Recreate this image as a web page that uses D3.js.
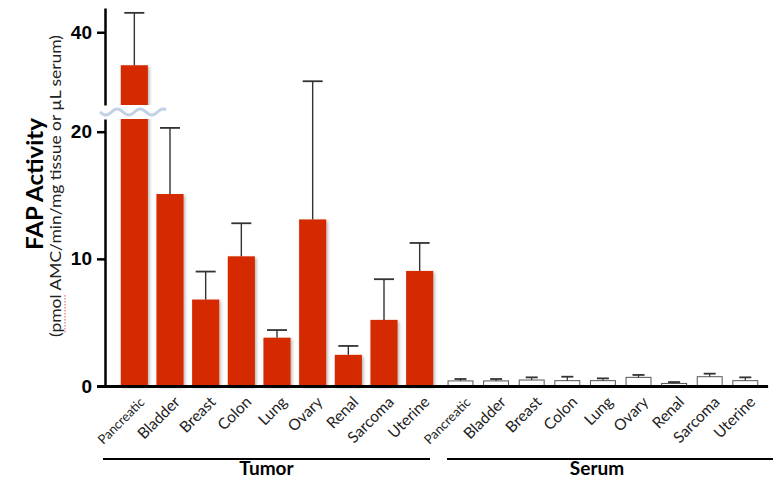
<!DOCTYPE html>
<html>
<head>
<meta charset="utf-8">
<script src="https://cdn.jsdelivr.net/npm/d3@7"></script>
<style>
  body { margin: 0; background: #fff; }
  svg { display: block; font-family: Lato, "Open Sans", sans-serif; }
</style>
</head>
<body>
<div id="chart"></div>
<script>
// Data
const categories = ["Pancreatic", "Bladder", "Breast", "Colon", "Lung", "Ovary", "Renal", "Sarcoma", "Uterine"];
const tumorMean  = [33.2, 15.1, 6.8, 10.2, 3.8, 13.1, 2.45, 5.2, 9.05];
const tumorUpper = [44.0, 20.3, 9.0, 12.8, 4.4, 29.9, 3.15, 8.4, 11.25];
const serumMean  = [0.4, 0.4, 0.47, 0.42, 0.42, 0.68, 0.2, 0.73, 0.42];
const serumUpper = [0.55, 0.55, 0.68, 0.73, 0.6, 0.87, 0.31, 0.97, 0.68];
const lowerTicks = [0, 10, 20];
const upperTicks = [40];
const groups = ["Tumor", "Serum"];

const width = 776, height = 481;
const axisX = 105;

const svg = d3.select("#chart").append("svg")
    .attr("width", width)
    .attr("height", height);

// soft shadow on the red bars
const defs = svg.append("defs");
const f = defs.append("filter").attr("id", "shadow")
    .attr("x", "-20%").attr("y", "-5%").attr("width", "150%").attr("height", "115%");
f.append("feDropShadow").attr("dx", 1.5).attr("dy", 1.5).attr("stdDeviation", 1.5)
    .attr("flood-color", "#000").attr("flood-opacity", 0.3);

// broken y axis: lower segment 0-21, upper segment 25-45
const yLow = d3.scaleLinear().domain([0, 21]).range([386, 119]);
const yHigh = d3.scaleLinear().domain([25, 45]).range([105, 8]);
const y = d3.scaleLinear().domain([0, 21, 25, 45]).range([386, 119, 105, 8]);

const xTumor = d3.scaleBand().domain(categories).range([116.5, 437.5])
    .paddingInner(0.24).paddingOuter(0.12);
const xSerum = d3.scaleBand().domain(categories).range([442.7, 763.1])
    .paddingInner(0.3).paddingOuter(0.15);

const tumorData = categories.map((c, i) => ({cat: c, mean: tumorMean[i], upper: tumorUpper[i]}));
const serumData = categories.map((c, i) => ({cat: c, mean: serumMean[i], upper: serumUpper[i]}));

// Tumor bars
svg.append("g").attr("filter", "url(#shadow)")
    .selectAll("rect")
    .data(tumorData)
    .join("rect")
    .attr("x", d => xTumor(d.cat))
    .attr("width", xTumor.bandwidth())
    .attr("y", d => y(d.mean))
    .attr("height", d => y(0) - y(d.mean))
    .attr("fill", "#d52b05");

// Tumor error bars (upper only)
const errT = svg.append("g").attr("stroke", "#333").attr("stroke-width", 1.4);
errT.selectAll(".v").data(tumorData).join("line")
    .attr("x1", d => xTumor(d.cat) + xTumor.bandwidth() / 2)
    .attr("x2", d => xTumor(d.cat) + xTumor.bandwidth() / 2)
    .attr("y1", d => y(d.mean))
    .attr("y2", d => y(d.upper));
errT.selectAll(".c").data(tumorData).join("line")
    .attr("x1", d => xTumor(d.cat) + xTumor.bandwidth() / 2 - 10)
    .attr("x2", d => xTumor(d.cat) + xTumor.bandwidth() / 2 + 10)
    .attr("y1", d => y(d.upper))
    .attr("y2", d => y(d.upper))
    .attr("stroke-width", 1.8);

// Serum bars
svg.append("g")
    .selectAll("rect")
    .data(serumData)
    .join("rect")
    .attr("x", d => xSerum(d.cat))
    .attr("width", xSerum.bandwidth())
    .attr("y", d => y(d.mean))
    .attr("height", d => y(0) - y(d.mean))
    .attr("fill", "#fff")
    .attr("stroke", "#555")
    .attr("stroke-width", 1);

const errS = svg.append("g").attr("stroke", "#333").attr("stroke-width", 1.2);
errS.selectAll(".v").data(serumData).join("line")
    .attr("x1", d => xSerum(d.cat) + xSerum.bandwidth() / 2)
    .attr("x2", d => xSerum(d.cat) + xSerum.bandwidth() / 2)
    .attr("y1", d => y(d.mean))
    .attr("y2", d => y(d.upper));
errS.selectAll(".c").data(serumData).join("line")
    .attr("x1", d => xSerum(d.cat) + xSerum.bandwidth() / 2 - 6)
    .attr("x2", d => xSerum(d.cat) + xSerum.bandwidth() / 2 + 6)
    .attr("y1", d => y(d.upper))
    .attr("y2", d => y(d.upper))
    .attr("stroke-width", 1.8);

// gap in the pancreatic bar at the axis break
svg.append("rect")
    .attr("x", xTumor("Pancreatic") - 3)
    .attr("width", xTumor.bandwidth() + 8)
    .attr("y", y(25))
    .attr("height", y(21) - y(25))
    .attr("fill", "#fff");

// wavy break mark
const wavePts = d3.range(0, 67, 1).map(i => [100 + i, (y(21) + y(25)) / 2 + 3 * Math.sin(i / 23 * 2 * Math.PI)]);
svg.append("path")
    .attr("d", d3.line()(wavePts))
    .attr("fill", "none")
    .attr("stroke", "#c3d1e6")
    .attr("stroke-width", 3);

// y axes
function styleAxis(g) {
    g.select(".domain").attr("stroke", "#000").attr("stroke-width", 2.5);
    g.selectAll(".tick line").attr("stroke", "#000").attr("stroke-width", 2.5);
    g.selectAll(".tick text")
        .attr("font-size", 19)
        .attr("font-weight", "bold")
        .attr("fill", "#000");
}
svg.append("g")
    .attr("transform", `translate(${axisX},0)`)
    .call(d3.axisLeft(yLow).tickValues(lowerTicks).tickSize(8).tickSizeOuter(0).tickPadding(5))
    .call(styleAxis);
svg.append("g")
    .attr("transform", `translate(${axisX},0)`)
    .call(d3.axisLeft(yHigh).tickValues(upperTicks).tickSize(8).tickSizeOuter(0).tickPadding(5))
    .call(styleAxis);

// baseline
svg.append("line")
    .attr("x1", axisX - 8)
    .attr("x2", xSerum.range()[1] + 5)
    .attr("y1", y(0) + 0.5)
    .attr("y2", y(0) + 0.5)
    .attr("stroke", "#000")
    .attr("stroke-width", 3);

// category labels
function addLabels(scale) {
    svg.append("g")
        .selectAll("text")
        .data(categories)
        .join("text")
        .attr("transform", d => `translate(${scale(d) + scale.bandwidth() / 2 + 11},${y(0) + 17}) rotate(-45)`)
        .attr("text-anchor", "end")
        .attr("font-size", d => d === "Pancreatic" ? 13 : 15.5)
        .attr("fill", "#222")
        .text(d => d);
}
addLabels(xTumor);
addLabels(xSerum);

// group lines and names
const groupSpans = [[103, 430], [447, 773]];
groups.forEach((g, i) => {
    const [a, b] = groupSpans[i];
    svg.append("line")
        .attr("x1", a).attr("x2", b)
        .attr("y1", 459).attr("y2", 459)
        .attr("stroke", "#000").attr("stroke-width", 2);
    svg.append("text")
        .attr("x", i === 0 ? (a + b) / 2 : 597)
        .attr("y", 475)
        .attr("text-anchor", "middle")
        .attr("font-size", 19)
        .attr("font-weight", "bold")
        .text(g);
});

// y axis titles
svg.append("text")
    .attr("transform", "translate(43,184) rotate(-90)")
    .attr("text-anchor", "middle")
    .attr("font-size", 22)
    .attr("font-weight", "bold")
    .attr("textLength", 132)
    .attr("lengthAdjust", "spacingAndGlyphs")
    .text("FAP Activity");

const subLen = 302;
const sub = svg.append("text")
    .attr("transform", "translate(61,186) rotate(-90)")
    .attr("text-anchor", "middle")
    .attr("font-size", 15.5)
    .attr("fill", "#222")
    .text("(pmol AMC/min/mg tissue or \u00b5L serum)");

// measure before stretching, then stretch to the target length
const subNode = sub.node();
const natural = subNode.getComputedTextLength();
const k = subLen / natural;
const start = subNode.getSubStringLength(0, 1) * k;
const len = subNode.getSubStringLength(1, 4) * k;
sub.attr("textLength", subLen).attr("lengthAdjust", "spacingAndGlyphs");

// red spell-check underline under "pmol"
svg.append("line")
    .attr("transform", "translate(61,186) rotate(-90)")
    .attr("x1", -subLen / 2 + start)
    .attr("x2", -subLen / 2 + start + len)
    .attr("y1", 4).attr("y2", 4)
    .attr("stroke", "#e05050")
    .attr("stroke-width", 1)
    .attr("stroke-dasharray", "1.5,1.5");
</script>
</body>
</html>
